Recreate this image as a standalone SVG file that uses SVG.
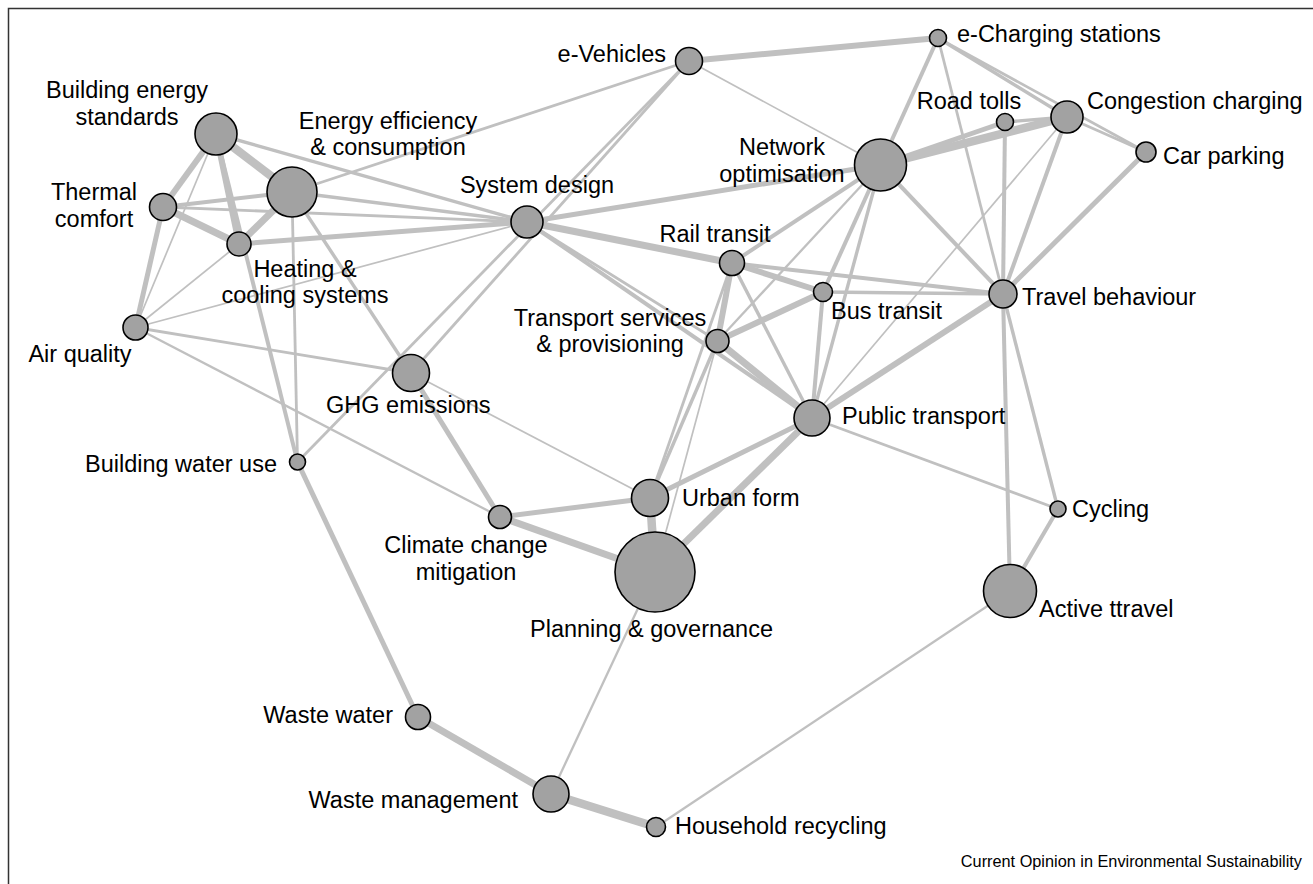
<svg xmlns="http://www.w3.org/2000/svg" width="1313" height="884" viewBox="0 0 1313 884">
<style>
.bg{fill:#ffffff}
.frame{fill:none;stroke:#333;stroke-width:1.5}
#edges line{stroke:#c0c0c0;stroke-linecap:butt}
.a{stroke-width:1.7}.b{stroke-width:2.3}.c{stroke-width:2.8}.d{stroke-width:3.4}.e{stroke-width:4}.f{stroke-width:5}.g{stroke-width:6}.h{stroke-width:7}.i{stroke-width:8.5}
.node circle{fill:#a2a2a2;stroke:#000;stroke-width:1.6}
text{font-family:"Liberation Sans",Arial,Helvetica,sans-serif;font-size:23.5px;fill:#000}
.m{text-anchor:middle}.r{text-anchor:end}
.foot{font-size:16.3px;text-anchor:end}
</style>
<rect class="bg" x="0" y="0" width="1313" height="884"/>
<rect class="frame" x="8.5" y="8.5" width="1330" height="900"/>
<g id="edges">
<line class="i" x1="216" y1="134" x2="292" y2="192"/>
<line class="g" x1="216" y1="134" x2="163" y2="207"/>
<line class="g" x1="216" y1="134" x2="239" y2="244"/>
<line class="e" x1="216" y1="134" x2="297.5" y2="462"/>
<line class="a" x1="216" y1="134" x2="135.5" y2="327.5"/>
<line class="d" x1="216" y1="134" x2="527" y2="222"/>
<line class="e" x1="292" y1="192" x2="163" y2="207"/>
<line class="h" x1="292" y1="192" x2="239" y2="244"/>
<line class="d" x1="292" y1="192" x2="527" y2="222"/>
<line class="c" x1="292" y1="192" x2="689" y2="61"/>
<line class="c" x1="292" y1="192" x2="297.5" y2="462"/>
<line class="d" x1="292" y1="192" x2="411" y2="373"/>
<line class="c" x1="163" y1="207" x2="527" y2="222"/>
<line class="h" x1="163" y1="207" x2="239" y2="244"/>
<line class="f" x1="163" y1="207" x2="135.5" y2="327.5"/>
<line class="f" x1="239" y1="244" x2="527" y2="222"/>
<line class="a" x1="239" y1="244" x2="135.5" y2="327.5"/>
<line class="a" x1="135.5" y1="327.5" x2="527" y2="222"/>
<line class="c" x1="135.5" y1="327.5" x2="411" y2="373"/>
<line class="b" x1="135.5" y1="327.5" x2="500" y2="517"/>
<line class="f" x1="411" y1="373" x2="500" y2="517"/>
<line class="a" x1="411" y1="373" x2="650" y2="498"/>
<line class="f" x1="500" y1="517" x2="650" y2="498"/>
<line class="h" x1="500" y1="517" x2="655" y2="572"/>
<line class="i" x1="650" y1="498" x2="655" y2="572"/>
<line class="f" x1="812" y1="418" x2="650" y2="498"/>
<line class="h" x1="812" y1="418" x2="655" y2="572"/>
<line class="f" x1="297.5" y1="462" x2="418" y2="717"/>
<line class="h" x1="418" y1="717" x2="551" y2="794"/>
<line class="i" x1="551" y1="794" x2="656" y2="827"/>
<line class="b" x1="551" y1="794" x2="655" y2="572"/>
<line class="b" x1="1010" y1="591" x2="656" y2="827"/>
<line class="f" x1="527" y1="222" x2="880.5" y2="165"/>
<line class="h" x1="527" y1="222" x2="732" y2="263"/>
<line class="g" x1="732" y1="263" x2="823" y2="292"/>
<line class="e" x1="732" y1="263" x2="1003" y2="294"/>
<line class="d" x1="823" y1="292" x2="1003" y2="294"/>
<line class="g" x1="823" y1="292" x2="717.5" y2="341"/>
<line class="e" x1="823" y1="292" x2="812" y2="418"/>
<line class="g" x1="732" y1="263" x2="717.5" y2="341"/>
<line class="d" x1="732" y1="263" x2="812" y2="418"/>
<line class="e" x1="880.5" y1="165" x2="732" y2="263"/>
<line class="b" x1="880.5" y1="165" x2="717.5" y2="341"/>
<line class="e" x1="880.5" y1="165" x2="823" y2="292"/>
<line class="d" x1="880.5" y1="165" x2="812" y2="418"/>
<line class="c" x1="527" y1="222" x2="717.5" y2="341"/>
<line class="e" x1="527" y1="222" x2="812" y2="418"/>
<line class="h" x1="717.5" y1="341" x2="812" y2="418"/>
<line class="d" x1="717.5" y1="341" x2="650" y2="498"/>
<line class="c" x1="732" y1="263" x2="650" y2="498"/>
<line class="a" x1="717.5" y1="341" x2="655" y2="572"/>
<line class="g" x1="1003" y1="294" x2="812" y2="418"/>
<line class="a" x1="1067" y1="117" x2="812" y2="418"/>
<line class="c" x1="812" y1="418" x2="1058" y2="509"/>
<line class="e" x1="1003" y1="294" x2="1010" y2="591"/>
<line class="d" x1="1003" y1="294" x2="1058" y2="509"/>
<line class="e" x1="1058" y1="509" x2="1010" y2="591"/>
<line class="e" x1="880.5" y1="165" x2="1003" y2="294"/>
<line class="e" x1="880.5" y1="165" x2="938" y2="38"/>
<line class="f" x1="880.5" y1="165" x2="1005" y2="122"/>
<line class="i" x1="880.5" y1="165" x2="1067" y2="117"/>
<line class="d" x1="1005" y1="122" x2="1067" y2="117"/>
<line class="c" x1="938" y1="38" x2="1003" y2="294"/>
<line class="d" x1="938" y1="38" x2="1067" y2="117"/>
<line class="c" x1="938" y1="38" x2="1146" y2="152"/>
<line class="c" x1="1067" y1="117" x2="1146" y2="152"/>
<line class="e" x1="1005" y1="122" x2="1003" y2="294"/>
<line class="e" x1="1067" y1="117" x2="1003" y2="294"/>
<line class="f" x1="1146" y1="152" x2="1003" y2="294"/>
<line class="g" x1="689" y1="61" x2="938" y2="38"/>
<line class="a" x1="689" y1="61" x2="880.5" y2="165"/>
<line class="c" x1="689" y1="61" x2="297.5" y2="462"/>
<line class="c" x1="689" y1="61" x2="411" y2="373"/>
</g>
<g id="n-bes" class="node"><circle cx="216" cy="134" r="21"/><text class="m" x="127" y="98">Building energy</text><text class="m" x="127" y="125">standards</text></g>
<g id="n-eec" class="node"><circle cx="292" cy="192" r="25"/><text class="m" x="388" y="129">Energy efficiency</text><text class="m" x="388" y="155">&amp; consumption</text></g>
<g id="n-tc" class="node"><circle cx="163" cy="207" r="13.5"/><text class="m" x="94" y="200">Thermal</text><text class="m" x="94" y="227">comfort</text></g>
<g id="n-hcs" class="node"><circle cx="239" cy="244" r="12"/><text class="m" x="305" y="277">Heating &amp;</text><text class="m" x="305" y="303">cooling systems</text></g>
<g id="n-aq" class="node"><circle cx="135.5" cy="327.5" r="12.5"/><text class="m" x="80" y="362">Air quality</text></g>
<g id="n-ghg" class="node"><circle cx="411" cy="373" r="18.5"/><text x="326" y="413">GHG emissions</text></g>
<g id="n-bwu" class="node"><circle cx="297.5" cy="462" r="8"/><text class="r" x="277" y="472">Building water use</text></g>
<g id="n-sd" class="node"><circle cx="527" cy="222" r="16"/><text class="m" x="537" y="193">System design</text></g>
<g id="n-ev" class="node"><circle cx="689" cy="61" r="13.5"/><text class="r" x="666" y="62">e-Vehicles</text></g>
<g id="n-ecs" class="node"><circle cx="938" cy="38" r="8.5"/><text x="957" y="42">e-Charging stations</text></g>
<g id="n-rt" class="node"><circle cx="1005" cy="122" r="8.5"/><text class="m" x="969" y="109">Road tolls</text></g>
<g id="n-cc" class="node"><circle cx="1067" cy="117" r="16"/><text x="1087" y="109">Congestion charging</text></g>
<g id="n-cp" class="node"><circle cx="1146" cy="152" r="10"/><text x="1163" y="164">Car parking</text></g>
<g id="n-no" class="node"><circle cx="880.5" cy="165" r="26"/><text class="m" x="782" y="155">Network</text><text class="m" x="782" y="182">optimisation</text></g>
<g id="n-rail" class="node"><circle cx="732" cy="263" r="12.5"/><text class="m" x="715" y="242">Rail transit</text></g>
<g id="n-bus" class="node"><circle cx="823" cy="292" r="9.5"/><text x="831" y="319">Bus transit</text></g>
<g id="n-tb" class="node"><circle cx="1003" cy="294" r="14"/><text x="1022" y="305">Travel behaviour</text></g>
<g id="n-tsp" class="node"><circle cx="717.5" cy="341" r="11.5"/><text class="m" x="610" y="326">Transport services</text><text class="m" x="610" y="352">&amp; provisioning</text></g>
<g id="n-pt" class="node"><circle cx="812" cy="418" r="18"/><text x="842" y="424">Public transport</text></g>
<g id="n-uf" class="node"><circle cx="650" cy="498" r="18.5"/><text x="682" y="506">Urban form</text></g>
<g id="n-ccm" class="node"><circle cx="500" cy="517" r="11.5"/><text class="m" x="466" y="553">Climate change</text><text class="m" x="466" y="580">mitigation</text></g>
<g id="n-cyc" class="node"><circle cx="1058" cy="509" r="8"/><text x="1072" y="517">Cycling</text></g>
<g id="n-pg" class="node"><circle cx="655" cy="572" r="40"/><text x="530" y="637">Planning &amp; governance</text></g>
<g id="n-at" class="node"><circle cx="1010" cy="591" r="26.5"/><text x="1039" y="617">Active ttravel</text></g>
<g id="n-ww" class="node"><circle cx="418" cy="717" r="12.5"/><text class="r" x="393" y="723">Waste water</text></g>
<g id="n-wm" class="node"><circle cx="551" cy="794" r="18"/><text class="r" x="518" y="808">Waste management</text></g>
<g id="n-hr" class="node"><circle cx="656" cy="827" r="9.5"/><text x="675" y="834">Household recycling</text></g>
<text class="foot" x="1302" y="867">Current Opinion in Environmental Sustainability</text>
</svg>
